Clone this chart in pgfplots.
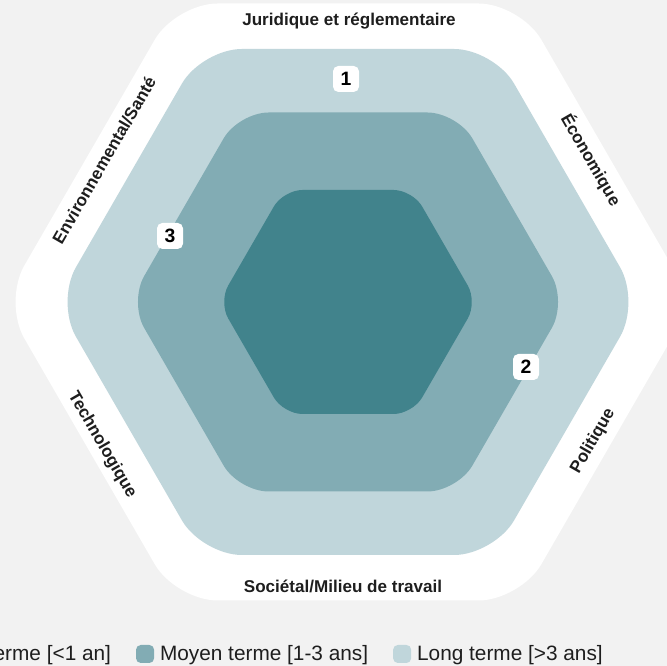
\documentclass[border=0pt]{standalone}
\usepackage{pgfplots}
\pgfplotsset{compat=1.18}
\usepackage{fontspec}
\setmainfont{Liberation Sans}
\definecolor{bgcol}{HTML}{F2F2F2}
\definecolor{darkc}{HTML}{41838C}
\definecolor{medc}{HTML}{82ACB4}
\definecolor{lightc}{HTML}{C0D6DB}
\definecolor{txt}{HTML}{1E1E1E}
\begin{document}
\begin{tikzpicture}
\path[use as bounding box] (0,0) rectangle (500.25pt,499.5pt);
\clip (0,0) rectangle (500.25pt,499.5pt);
\fill[bgcol] (0,0) rectangle (500.25pt,499.5pt);
\begin{axis}[
  x=0.75pt, y=0.75pt,
  xmin=0, xmax=667, ymin=0, ymax=666,
  hide axis, enlargelimits=false,
  at={(0,0)}, anchor=south west,
  legend columns=3, reverse legend,
  legend image code/.code={\fill[#1, draw=none, rounded corners=3.5pt] (0pt,-6.75pt) rectangle (13.5pt,6.75pt);},
  legend style={at={(axis cs:603,12)}, anchor=east, draw=none, fill=none,
    inner sep=0pt, nodes={inner sep=0pt, text=txt},
    font=\fontsize{15.6}{18}\selectfont,
    /tikz/every odd column/.append style={column sep=4.5pt},
    /tikz/every even column/.append style={column sep=18.75pt}},
]
% outer white hexagon
\addplot[fill=white, draw=none, no markers, rounded corners=31.5pt, forget plot]
  coordinates {(348,662.5) (520.4,662.5) (692.7,364) (520.4,65.5) (175.7,65.5) (3.3,364) (175.7,662.5)} -- cycle;
% long term
\addplot[fill=lightc, draw=none, no markers, rounded corners=30pt]
  coordinates {(348,617) (494.1,617) (640.1,364) (494.1,111) (201.9,111) (55.9,364) (201.9,617)} -- cycle;
\addlegendentry{Long terme [>3 ans]}
% medium term
\addplot[fill=medc, draw=none, no markers, rounded corners=22.5pt]
  coordinates {(348,553.5) (457.4,553.5) (566.8,364) (457.4,174.5) (238.6,174.5) (129.2,364) (238.6,553.5)} -- cycle;
\addlegendentry{Moyen terme [1-3 ans]}
% short term
\addplot[fill=darkc, draw=none, no markers, rounded corners=14.25pt]
  coordinates {(348,476) (412.6,476) (477.3,364) (412.6,252) (283.4,252) (218.7,364) (283.4,476)} -- cycle;
\addlegendentry{Court terme [<1 an]}

\begin{scope}[every node/.style={text=txt, font=\bfseries\fontsize{12.8}{15}\selectfont, inner sep=0pt}]
\node at (axis cs:349,645) {Juridique et réglementaire};
\node[rotate=-60] at (axis cs:591,506) {Économique};
\node[rotate=60] at (axis cs:104,506) {Environnemental/Santé};
\node[rotate=-60] at (axis cs:102,221) {Technologique};
\node[rotate=60] at (axis cs:593,225) {Politique};
\node at (axis cs:343,80) {Sociétal/Milieu de travail};
\end{scope}

\begin{scope}[every node/.style={fill=white, rounded corners=4pt, minimum size=19.5pt, inner sep=0pt, text=black, font=\bfseries\fontsize{14.5}{15}\selectfont}]
\node at (axis cs:346,587) {1};
\node at (axis cs:526,299) {2};
\node at (axis cs:170,430) {3};
\end{scope}
\end{axis}
\end{tikzpicture}
\end{document}
